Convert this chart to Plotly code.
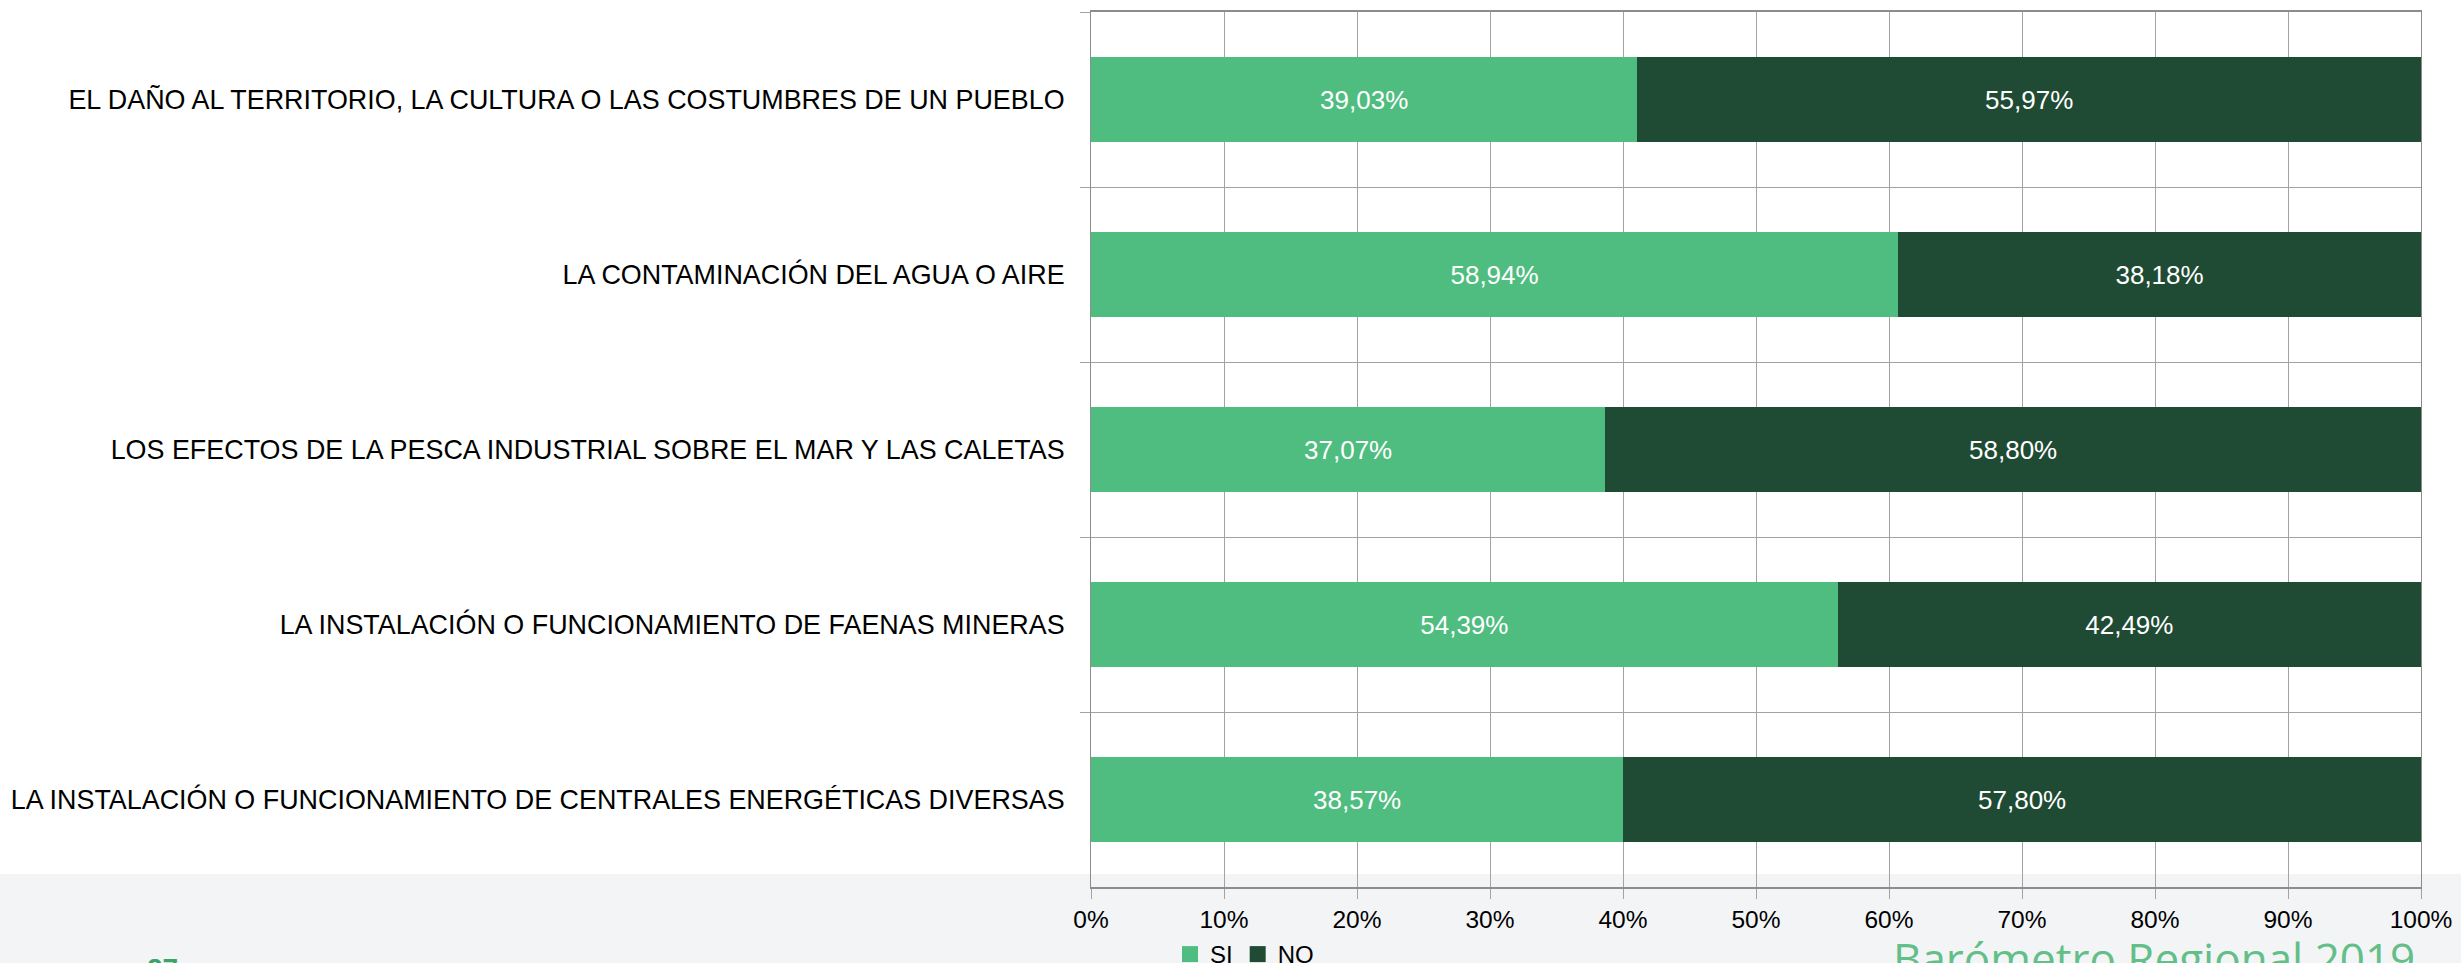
import plotly.graph_objects as go

categories = [
    "EL DAÑO AL TERRITORIO, LA CULTURA O LAS COSTUMBRES DE UN PUEBLO",
    "LA CONTAMINACIÓN DEL AGUA O AIRE",
    "LOS EFECTOS DE LA PESCA INDUSTRIAL SOBRE EL MAR Y LAS CALETAS",
    "LA INSTALACIÓN O FUNCIONAMIENTO DE FAENAS MINERAS",
    "LA INSTALACIÓN O FUNCIONAMIENTO DE CENTRALES ENERGÉTICAS DIVERSAS",
]
si_values = [39.03, 58.94, 37.07, 54.39, 38.57]
no_values = [55.97, 38.18, 58.80, 42.49, 57.80]
x_ticks = [0, 10, 20, 30, 40, 50, 60, 70, 80, 90, 100]

SI_COLOR = "#50bd80"
NO_COLOR = "#1f4b34"
GRID = "#a3a3a3"
FONT = "Liberation Sans, Arial, sans-serif"


def fmt(v):
    return f"{v:.2f}".replace(".", ",") + "%"


W, H = 2461, 963
ML, MR, MT, MB = 1091, 40, 12, 76
PH = H - MT - MB


def py(pix):
    # pixel y (from top) -> paper y
    return (H - MB - pix) / PH


def px(pix):
    return (pix - ML) / (W - ML - MR)


fig = go.Figure()
for name, vals, col in [("SI", si_values, SI_COLOR), ("NO", no_values, NO_COLOR)]:
    fig.add_trace(go.Bar(
        name=name, y=categories, x=vals, orientation="h",
        marker=dict(color=col, line=dict(width=0)),
        text=[fmt(v) for v in vals], textposition="inside",
        insidetextanchor="middle", textangle=0,
        textfont=dict(color="white", size=26, family=FONT),
        hoverinfo="skip", showlegend=False,
    ))
# legend entries (square swatches)
for name, col in [("SI", SI_COLOR), ("NO", NO_COLOR)]:
    fig.add_trace(go.Scatter(
        name=name, x=[None], y=[None], mode="markers",
        marker=dict(symbol="square", size=16, color=col),
        showlegend=True, hoverinfo="skip",
    ))

fig.update_layout(
    width=W, height=H,
    barmode="stack", barnorm="percent", bargap=0.51,
    margin=dict(l=ML, r=MR, t=MT, b=MB, pad=0, autoexpand=False),
    paper_bgcolor="white", plot_bgcolor="rgba(0,0,0,0)",
    font=dict(family=FONT, size=24, color="black"),
    showlegend=True,
    legend=dict(orientation="h", x=px(1170), xanchor="left", y=py(932), yanchor="top",
                traceorder="normal", itemsizing="trace",
                font=dict(size=24, color="black", family=FONT),
                itemwidth=30, tracegroupgap=0, bgcolor="rgba(0,0,0,0)"),
    xaxis=dict(range=[0, 100], tickvals=x_ticks, ticktext=[f"{t}%" for t in x_ticks],
               showgrid=True, gridcolor=GRID, gridwidth=1,
               showline=True, linecolor="#8c8c8c", linewidth=2, mirror=True,
               ticks="outside", ticklen=10, tickcolor=GRID, tickwidth=1,
               zeroline=False, tickfont=dict(size=24.5, family=FONT, color="black")),
    yaxis=dict(categoryorder="array", categoryarray=categories, autorange="reversed",
               tickson="boundaries", showgrid=True, gridcolor=GRID, gridwidth=1,
               showline=True, linecolor="#8c8c8c", linewidth=1, mirror=True,
               ticks="outside", ticklen=10, tickcolor=GRID, tickwidth=1,
               ticklabelstandoff=20,
               tickfont=dict(size=26.9, family=FONT, color="black")),
    shapes=[dict(type="rect", xref="paper", yref="paper",
                 x0=-2, x1=1.2, y0=py(H + 20), y1=py(874),
                 fillcolor="#f3f4f6", line=dict(width=0), layer="below")],
    annotations=[
        dict(text="Barómetro Regional 2019", xref="paper", yref="paper",
             x=px(2417), xanchor="right", y=py(926), yanchor="top", showarrow=False,
             font=dict(family="Open Sans, sans-serif", size=44, color="#62bf87")),
        dict(text="<b>27</b>", xref="paper", yref="paper",
             x=px(162), xanchor="center", y=py(951), yanchor="top", showarrow=False,
             font=dict(family=FONT, size=28, color="#3aa46a")),
    ],
)

fig.write_html("out.html", config={"displayModeBar": False})

# remove the browser's default page margin so the figure sits at the window origin
with open("out.html", "r", encoding="utf-8") as f:
    html = f.read()
html = html.replace("<head>", "<head><style>html,body{margin:0;padding:0;overflow:hidden;}</style>", 1)
with open("out.html", "w", encoding="utf-8") as f:
    f.write(html)
